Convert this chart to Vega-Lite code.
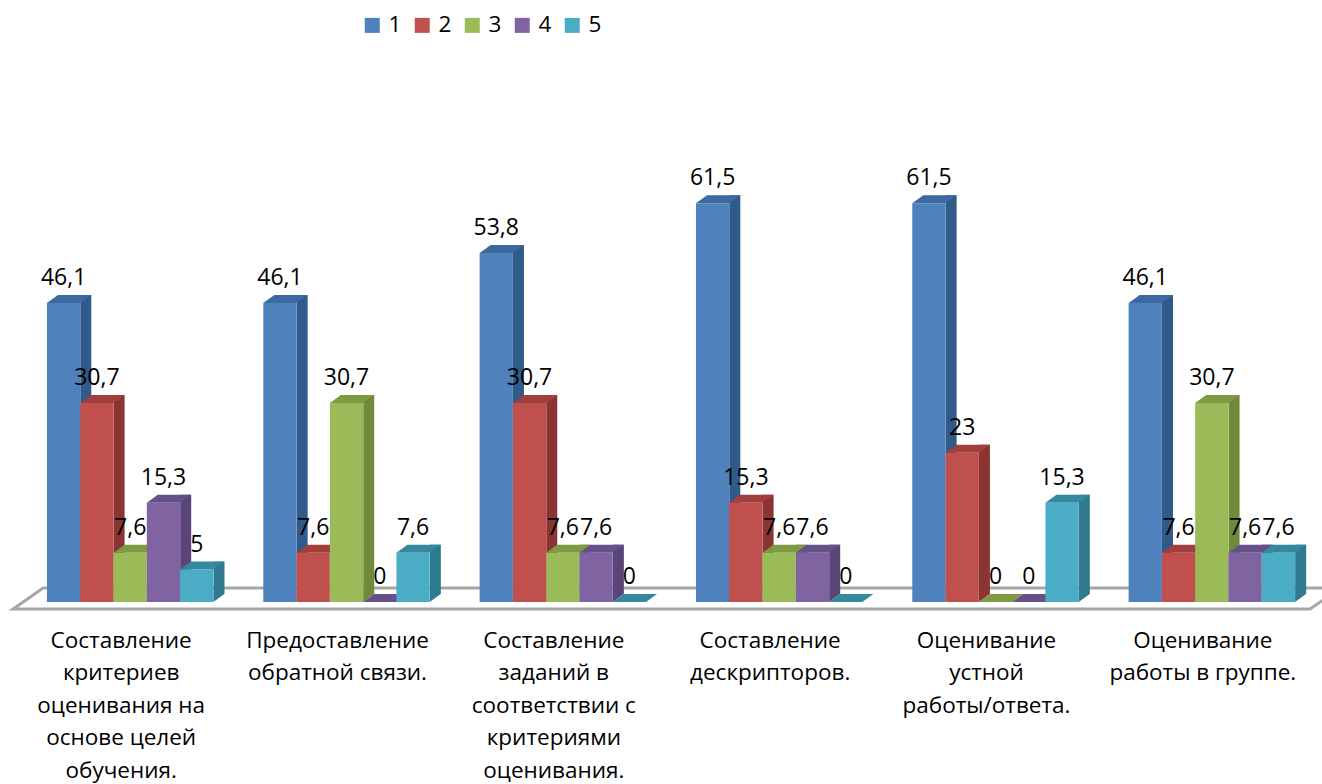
{"$schema":"https://vega.github.io/schema/vega-lite/v6.json","autosize":"none","padding":{"left":22,"top":148,"right":2,"bottom":182},"width":1298,"height":454,"background":"white","config":{"view":{"stroke":null},"font":"Open Sans"},"data":{"values":[
{"cat":"Составление|критериев|оценивания на|основе целей|обучения.","series":"1","value":46.1,"label":"46,1"},
{"cat":"Составление|критериев|оценивания на|основе целей|обучения.","series":"2","value":30.7,"label":"30,7"},
{"cat":"Составление|критериев|оценивания на|основе целей|обучения.","series":"3","value":7.6,"label":"7,6"},
{"cat":"Составление|критериев|оценивания на|основе целей|обучения.","series":"4","value":15.3,"label":"15,3"},
{"cat":"Составление|критериев|оценивания на|основе целей|обучения.","series":"5","value":5,"label":"5"},
{"cat":"Предоставление|обратной связи.","series":"1","value":46.1,"label":"46,1"},
{"cat":"Предоставление|обратной связи.","series":"2","value":7.6,"label":"7,6"},
{"cat":"Предоставление|обратной связи.","series":"3","value":30.7,"label":"30,7"},
{"cat":"Предоставление|обратной связи.","series":"4","value":0,"label":"0"},
{"cat":"Предоставление|обратной связи.","series":"5","value":7.6,"label":"7,6"},
{"cat":"Составление|заданий в|соответствии с|критериями|оценивания.","series":"1","value":53.8,"label":"53,8"},
{"cat":"Составление|заданий в|соответствии с|критериями|оценивания.","series":"2","value":30.7,"label":"30,7"},
{"cat":"Составление|заданий в|соответствии с|критериями|оценивания.","series":"3","value":7.6,"label":"7,6"},
{"cat":"Составление|заданий в|соответствии с|критериями|оценивания.","series":"4","value":7.6,"label":"7,6"},
{"cat":"Составление|заданий в|соответствии с|критериями|оценивания.","series":"5","value":0,"label":"0"},
{"cat":"Составление|дескрипторов.","series":"1","value":61.5,"label":"61,5"},
{"cat":"Составление|дескрипторов.","series":"2","value":15.3,"label":"15,3"},
{"cat":"Составление|дескрипторов.","series":"3","value":7.6,"label":"7,6"},
{"cat":"Составление|дескрипторов.","series":"4","value":7.6,"label":"7,6"},
{"cat":"Составление|дескрипторов.","series":"5","value":0,"label":"0"},
{"cat":"Оценивание|устной|работы/ответа.","series":"1","value":61.5,"label":"61,5"},
{"cat":"Оценивание|устной|работы/ответа.","series":"2","value":23,"label":"23"},
{"cat":"Оценивание|устной|работы/ответа.","series":"3","value":0,"label":"0"},
{"cat":"Оценивание|устной|работы/ответа.","series":"4","value":0,"label":"0"},
{"cat":"Оценивание|устной|работы/ответа.","series":"5","value":15.3,"label":"15,3"},
{"cat":"Оценивание|работы в группе.","series":"1","value":46.1,"label":"46,1"},
{"cat":"Оценивание|работы в группе.","series":"2","value":7.6,"label":"7,6"},
{"cat":"Оценивание|работы в группе.","series":"3","value":30.7,"label":"30,7"},
{"cat":"Оценивание|работы в группе.","series":"4","value":7.6,"label":"7,6"},
{"cat":"Оценивание|работы в группе.","series":"5","value":7.6,"label":"7,6"}
]},
"encoding":{
"x":{"field":"cat","type":"nominal","sort":null,"title":null,"scale":{"paddingInner":0,"paddingOuter":0},"axis":{"domain":false,"ticks":false,"labelAngle":0,"labelFontSize":22.5,"labelColor":"#000000","labelLineHeight":32.5,"labelPadding":27,"labelBaseline":"top","labelLimit":0,"labelOffset":-9,"labelExpr":"split(datum.label,'|')"}},
"xOffset":{"field":"series","type":"nominal","scale":{"type":"band","domain":["1","2","3","4","5"],"paddingInner":0,"paddingOuter":0.75}}
},
"resolve":{"scale":{"color":"independent","xOffset":"independent"}},
"layer":[
{"transform":[{"filter":"datum.cat==='Составление|критериев|оценивания на|основе целей|обучения.' && datum.series==='3'"}],
"mark":{"type":"point","shape":"M-117,7 L1180,7 L1210,-14 L-87,-14 Z","size":4,"filled":false,"stroke":"#a6a6a6","strokeWidth":3,"opacity":1},
"encoding":{"y":{"datum":0,"type":"quantitative","scale":{"domain":[0,70]},"axis":null}}},
{"transform":[{"filter":"datum.value>0"}],
"mark":{"type":"rule","strokeWidth":11,"yOffset":-8,"y2Offset":-8},
"encoding":{"xOffset":{"field":"series","type":"nominal","scale":{"type":"point","domain":["1","2","3","4","5"],"range":[63.8,197],"padding":0}},"y":{"field":"value","type":"quantitative","stack":null,"scale":{"domain":[0,70]},"axis":null},"y2":{"datum":0},
"color":{"field":"series","type":"nominal","legend":null,"scale":{"domain":["1","2","3","4","5"],"range":["#305a8a","#8a3533","#6f8a3a","#5a4578","#2f7a8e"]}}}},
{"transform":[{"filter":"datum.value>0"}],
"mark":{"type":"point","shape":"M16.65,-8 L27.65,-8 L16.65,0 Z","size":4,"filled":true,"opacity":1,"strokeWidth":0},
"encoding":{"y":{"datum":0,"type":"quantitative"},
"color":{"field":"series","type":"nominal","legend":null,"scale":{"domain":["1","2","3","4","5"],"range":["#305a8a","#8a3533","#6f8a3a","#5a4578","#2f7a8e"]}}}},
{"mark":{"type":"point","shape":"M-16.65,0 L16.65,0 L27.65,-8 L-5.65,-8 Z","size":4,"filled":true,"opacity":1,"strokeWidth":0},
"encoding":{"y":{"field":"value","type":"quantitative"},
"color":{"field":"series","type":"nominal","legend":null,"scale":{"domain":["1","2","3","4","5"],"range":["#3c6a9e","#a03f3c","#7e9a42","#66508a","#35899f"]}}}},
{"mark":{"type":"bar"},
"encoding":{"y":{"field":"value","type":"quantitative","stack":null},
"color":{"field":"series","type":"nominal","scale":{"domain":["1","2","3","4","5"],"range":["#4f81bd","#c0504d","#9bbb59","#8064a2","#4bacc6"]},
"legend":{"title":null,"orient":"none","legendX":339,"legendY":-134,"direction":"horizontal","columns":5,"symbolType":"square","symbolSize":225,"symbolStrokeWidth":0,"labelFontSize":22.5,"labelColor":"#000000","labelOffset":5,"columnPadding":9}}}},
{"mark":{"type":"text","fontSize":23,"color":"#000000","dy":-25,"baseline":"middle","align":"center"},
"encoding":{"y":{"field":"value","type":"quantitative"},"text":{"field":"label","type":"nominal"}}}
]}
